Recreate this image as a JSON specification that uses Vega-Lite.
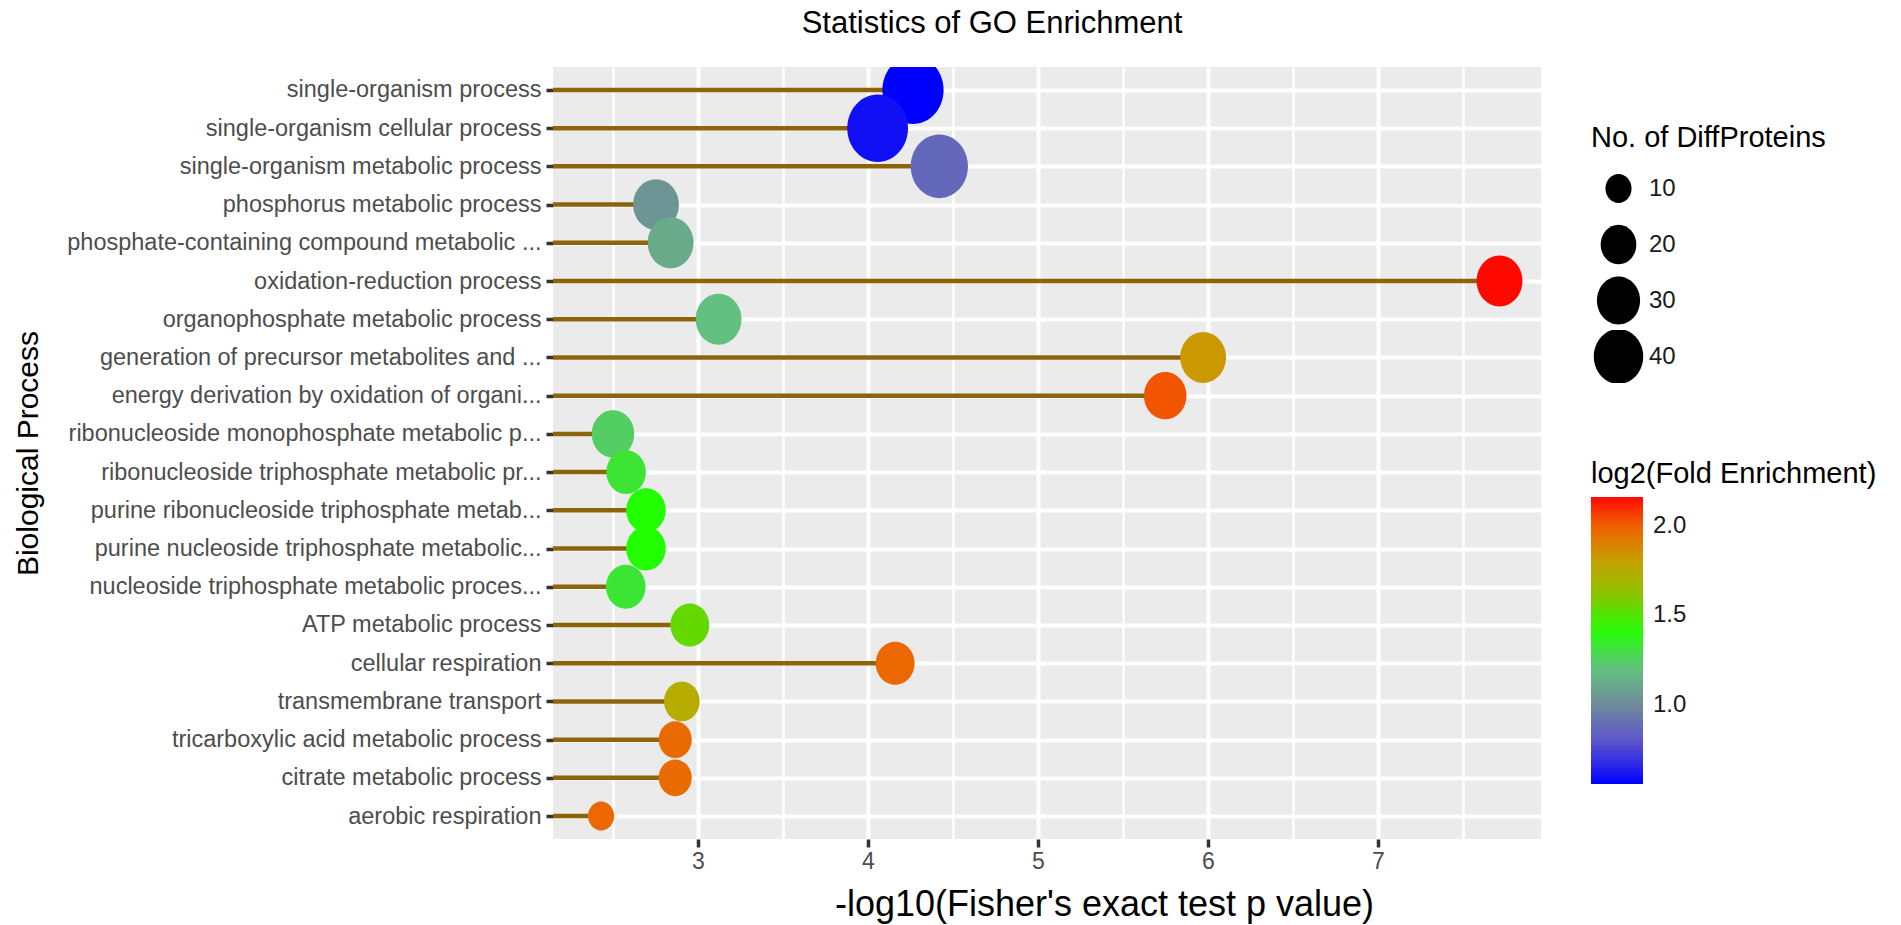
{
  "$schema": "https://vega.github.io/schema/vega-lite/v6.json",
  "autosize": {"type": "none"},
  "width": 988,
  "height": 772,
  "padding": {"left": 553, "top": 67, "right": 360, "bottom": 86},
  "background": "white",
  "title": {"text": "Statistics of GO Enrichment", "fontSize": 31, "font": "Liberation Sans", "fontWeight": "normal", "color": "#000000", "anchor": "middle", "dx": -55, "dy": 24, "offset": 20, "baseline": "bottom"},
  "data": {"values": [
    {"term": "single-organism process", "p": 4.265, "count": 62, "lfe": 0.56},
    {"term": "single-organism cellular process", "p": 4.057, "count": 61, "lfe": 0.60},
    {"term": "single-organism metabolic process", "p": 4.42, "count": 54, "lfe": 0.87},
    {"term": "phosphorus metabolic process", "p": 2.753, "count": 34, "lfe": 1.04},
    {"term": "phosphate-containing compound metabolic ...", "p": 2.839, "count": 34, "lfe": 1.12},
    {"term": "oxidation-reduction process", "p": 7.716, "count": 34, "lfe": 2.16},
    {"term": "organophosphate metabolic process", "p": 3.121, "count": 34, "lfe": 1.20},
    {"term": "generation of precursor metabolites and ...", "p": 5.972, "count": 34, "lfe": 1.83},
    {"term": "energy derivation by oxidation of organi...", "p": 5.749, "count": 29, "lfe": 2.02},
    {"term": "ribonucleoside monophosphate metabolic p...", "p": 2.50, "count": 29, "lfe": 1.25},
    {"term": "ribonucleoside triphosphate metabolic pr...", "p": 2.577, "count": 25, "lfe": 1.33},
    {"term": "purine ribonucleoside triphosphate metab...", "p": 2.694, "count": 25, "lfe": 1.42},
    {"term": "purine nucleoside triphosphate metabolic...", "p": 2.694, "count": 25, "lfe": 1.42},
    {"term": "nucleoside triphosphate metabolic proces...", "p": 2.575, "count": 25, "lfe": 1.33},
    {"term": "ATP metabolic process", "p": 2.952, "count": 24, "lfe": 1.54},
    {"term": "cellular respiration", "p": 4.16, "count": 24, "lfe": 1.98},
    {"term": "transmembrane transport", "p": 2.905, "count": 20, "lfe": 1.75},
    {"term": "tricarboxylic acid metabolic process", "p": 2.866, "count": 17, "lfe": 1.97},
    {"term": "citrate metabolic process", "p": 2.866, "count": 17, "lfe": 1.97},
    {"term": "aerobic respiration", "p": 2.43, "count": 10, "lfe": 1.98}
  ]},
  "encoding": {
    "y": {
      "field": "term", "type": "nominal", "sort": null,
      "scale": {"type": "point", "padding": 0.6},
      "axis": {
        "title": "Biological Process", "titleFontSize": 30, "titleX": -510, "titleY": 386,
        "titleAngle": -90, "titleBaseline": "bottom", "titleAlign": "center",
        "labelFontSize": 23.5, "labelLimit": 700, "labelPadding": 5,
        "tickSize": 7, "tickWidth": 3.5, "grid": true, "gridWidth": 4
      }
    },
    "x": {
      "field": "p", "type": "quantitative",
      "scale": {"domain": [2.147, 7.96], "nice": false, "zero": false},
      "axis": {
        "title": "-log10(Fisher's exact test p value)", "titleFontSize": 36,
        "titleX": 551, "titleY": 76, "titleBaseline": "alphabetic",
        "values": [2.5, 3, 3.5, 4, 4.5, 5, 5.5, 6, 6.5, 7, 7.5],
        "labelExpr": "datum.value % 1 === 0 ? format(datum.value, 'd') : ''",
        "labelOverlap": false, "labelFlush": false,
        "labelFontSize": 23, "labelPadding": 3,
        "gridWidth": {"condition": {"test": "datum.value % 1 === 0", "value": 4}, "value": 2.5},
        "tickOpacity": {"condition": {"test": "datum.value % 1 === 0", "value": 1}, "value": 0},
        "tickSize": 8, "tickWidth": 3.5
      }
    }
  },
  "layer": [
    {
      "mark": {"type": "rule", "color": "#8B6508", "strokeWidth": 4.5},
      "encoding": {"x2": {"datum": 2.147}}
    },
    {
      "mark": {"type": "point", "filled": true, "opacity": 1, "strokeWidth": 0, "clip": true,
               "shape": "M 0 -1 A 0.9 1 0 1 1 0 1 A 0.9 1 0 1 1 0 -1 Z"},
      "encoding": {
        "size": {
          "field": "count", "type": "quantitative",
          "scale": {"domain": [10, 62], "range": [841, 4624], "zero": false},
          "legend": {
            "title": "No. of DiffProteins", "orient": "none", "legendX": 1038, "legendY": 57,
            "values": [10, 20, 30, 40],
            "symbolType": "M 0 -1 A 0.9 1 0 1 1 0 1 A 0.9 1 0 1 1 0 -1 Z",
            "symbolFillColor": "#000000", "symbolStrokeWidth": 0, "symbolOpacity": 1,
            "titleFontSize": 29, "labelFontSize": 24, "titlePadding": 9,
            "clipHeight": 53, "rowPadding": 3, "labelOffset": 3
          }
        },
        "color": {
          "field": "lfe", "type": "quantitative",
          "scale": {
            "domain": [0.56, 0.78, 1.0, 1.2, 1.42, 1.62, 1.78, 2.0, 2.16],
            "range": ["#0000ff", "#5a50d0", "#708a9a", "#62c080", "#22ff00", "#90c000", "#c0a800", "#f06000", "#ff0800"],
            "interpolate": "rgb"
          },
          "legend": {
            "title": "log2(Fold Enrichment)", "orient": "none", "legendX": 1038, "legendY": 393,
            "values": [1.0, 1.5, 2.0], "format": ".1f", "direction": "vertical",
            "gradientLength": 287, "gradientThickness": 52, "gradientStrokeWidth": 0,
            "titleFontSize": 29, "labelFontSize": 24, "titlePadding": 8, "labelOffset": 10
          }
        }
      }
    }
  ],
  "config": {
    "font": "Liberation Sans",
    "view": {"fill": "#EBEBEB", "stroke": null},
    "axis": {
      "domain": false, "gridColor": "#FFFFFF", "gridOpacity": 1, "tickColor": "#333333",
      "labelColor": "#4D4D4D", "titleColor": "#000000", "titleFontWeight": "normal",
      "labelFont": "Liberation Sans", "titleFont": "Liberation Sans"
    },
    "legend": {
      "titleFont": "Liberation Sans", "labelFont": "Liberation Sans", "titleFontWeight": "normal",
      "titleColor": "#000000", "labelColor": "#1A1A1A", "titleLimit": 500, "labelLimit": 200
    }
  }
}
